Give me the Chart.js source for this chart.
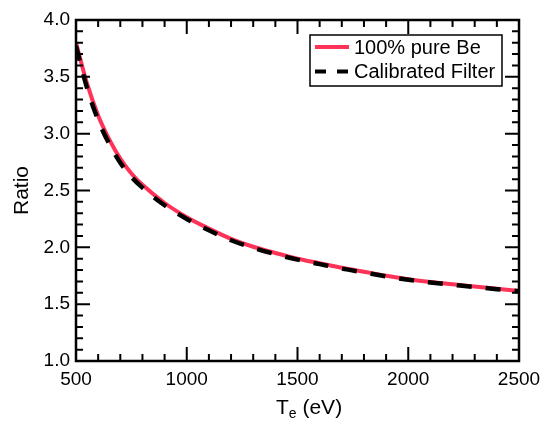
<!DOCTYPE html>
<html lang="en">
<head>
    <meta charset="UTF-8">
    <title>Ratio vs Te</title>
    <script src="https://cdn.jsdelivr.net/npm/chart.js"></script>
    <style>
        body { margin: 0; background: #fff; }
        .box { width: 540px; height: 422px; }
    </style>
</head>
<body>
    <div class="box">
        <canvas id="grafico"></canvas>
    </div>
<script>
// temperatures (eV)
const te = [500, 550, 600, 650, 700, 750, 800, 900, 1000, 1100, 1200, 1300, 1400,
            1500, 1600, 1700, 1800, 1900, 2000, 2100, 2200, 2300, 2400, 2500];
// ratio for 100% pure Be (red line)
const ratioPure = [3.80, 3.44, 3.16, 2.95, 2.78, 2.65, 2.55, 2.39, 2.265, 2.165, 2.075, 2.005, 1.95,
                   1.90, 1.86, 1.82, 1.785, 1.75, 1.72, 1.695, 1.675, 1.655, 1.635, 1.617];
// ratio for calibrated filter (dashed black)
const ratioCalib = [3.77, 3.40, 3.12, 2.91, 2.745, 2.62, 2.525, 2.37, 2.25, 2.15, 2.062, 1.995, 1.94,
                    1.892, 1.852, 1.813, 1.779, 1.745, 1.715, 1.691, 1.671, 1.651, 1.632, 1.614];
const seriesNames = ['100% pure Be', 'Calibrated Filter'];

const xMin = 500, xMax = 2500, xStep = 100, xMajor = 500;
const yMin = 1.0, yMax = 4.0, yStep = 0.1, yMajor = 0.5;

const fonte = '"Liberation Sans", Arial, Helvetica, sans-serif';

function isMajor(v, m) {
    const r = v / m;
    return Math.abs(r - Math.round(r)) < 1e-6;
}

function pontos(xs, ys) {
    let out = [];
    for (let i = 0; i < xs.length; i++) {
        out.push({ x: xs[i], y: ys[i] });
    }
    return out;
}

// frame, inward ticks on all four sides, legend and x title with subscript
const molduraPlugin = {
    id: 'moldura',
    afterDatasetsDraw(chart) {
        const ctx = chart.ctx;
        const a = chart.chartArea;
        const sx = chart.scales.x, sy = chart.scales.y;
        ctx.save();
        ctx.strokeStyle = '#000';
        ctx.lineWidth = 2;
        ctx.lineCap = 'butt';

        sx.ticks.forEach(function (t) {
            const p = sx.getPixelForValue(t.value);
            const len = isMajor(t.value, xMajor) ? 14 : 7;
            ctx.beginPath();
            ctx.moveTo(p, a.bottom); ctx.lineTo(p, a.bottom - len);
            ctx.moveTo(p, a.top); ctx.lineTo(p, a.top + len);
            ctx.stroke();
        });
        sy.ticks.forEach(function (t) {
            const p = sy.getPixelForValue(t.value);
            const len = isMajor(t.value, yMajor) ? 14 : 7;
            ctx.beginPath();
            ctx.moveTo(a.left, p); ctx.lineTo(a.left + len, p);
            ctx.moveTo(a.right, p); ctx.lineTo(a.right - len, p);
            ctx.stroke();
        });

        ctx.lineWidth = 2.5;
        ctx.strokeRect(a.left, a.top, a.right - a.left, a.bottom - a.top);

        // legend
        const ds = chart.data.datasets;
        const lx = a.right - 209, ly = a.top + 15, lw = 192, lh = 51;
        ctx.fillStyle = '#fff';
        ctx.fillRect(lx, ly, lw, lh);
        ctx.lineWidth = 1.5;
        ctx.strokeRect(lx, ly, lw, lh);
        ctx.font = '20px ' + fonte;
        ctx.textBaseline = 'alphabetic';
        ctx.textAlign = 'left';
        for (let i = 0; i < ds.length; i++) {
            const yy = ly + 12 + i * 24.5;
            ctx.beginPath();
            ctx.strokeStyle = ds[i].borderColor;
            ctx.lineWidth = 4;
            ctx.setLineDash(ds[i].borderDash ? [11, 11] : []);
            ctx.moveTo(lx + 5, yy);
            ctx.lineTo(lx + 39, yy);
            ctx.stroke();
            ctx.setLineDash([]);
            ctx.fillStyle = '#000';
            ctx.fillText(ds[i].label, lx + 44, yy + 6.5);
        }

        // x title: T with subscript e
        ctx.fillStyle = '#000';
        const base = 414;
        let x0 = 276;
        ctx.font = '21px ' + fonte;
        ctx.fillText('T', x0, base);
        x0 += ctx.measureText('T').width;
        ctx.font = '14px ' + fonte;
        ctx.fillText('e', x0, base + 4);
        x0 += ctx.measureText('e').width;
        ctx.font = '21px ' + fonte;
        ctx.fillText(' (eV)', x0, base);
        ctx.restore();
    }
};

const dados = {
    datasets: [{
        label: seriesNames[0],
        data: pontos(te, ratioPure),
        borderColor: '#ff3358',
        borderWidth: 4,
        pointRadius: 0,
        cubicInterpolationMode: 'monotone',
        order: 2
    }, {
        label: seriesNames[1],
        data: pontos(te, ratioCalib),
        borderColor: '#000000',
        borderWidth: 4.5,
        borderDash: [15, 14],
        borderCapStyle: 'butt',
        pointRadius: 0,
        cubicInterpolationMode: 'monotone',
        order: 1
    }]
};

const config = {
    type: 'line',
    data: dados,
    options: {
        responsive: true,
        maintainAspectRatio: false,
        animation: false,
        layout: { padding: { top: 20, right: 21, left: 0, bottom: 0 } },
        plugins: {
            legend: { display: false },
            tooltip: { enabled: false }
        },
        scales: {
            x: {
                type: 'linear',
                min: xMin,
                max: xMax,
                grid: { display: false, drawTicks: false },
                border: { display: false },
                ticks: {
                    stepSize: xStep,
                    autoSkip: false,
                    maxRotation: 0,
                    padding: 7,
                    color: '#000',
                    font: { family: fonte, size: 19 },
                    callback: function (v) { return isMajor(v, xMajor) ? String(v) : ''; }
                },
                afterFit: function (s) {
                    s.height = 61;
                    s.paddingLeft = 0;
                    s.paddingRight = 0;
                }
            },
            y: {
                type: 'linear',
                min: yMin,
                max: yMax,
                grid: { display: false, drawTicks: false },
                border: { display: false },
                title: {
                    display: true,
                    text: 'Ratio',
                    color: '#000',
                    font: { family: fonte, size: 21 },
                    padding: { top: 10, bottom: 0 }
                },
                ticks: {
                    stepSize: yStep,
                    autoSkip: false,
                    padding: 6,
                    color: '#000',
                    font: { family: fonte, size: 19 },
                    callback: function (v) { return isMajor(v, yMajor) ? v.toFixed(1) : ''; }
                },
                afterFit: function (s) {
                    s.width = 76;
                    s.paddingTop = 0;
                    s.paddingBottom = 0;
                }
            }
        }
    },
    plugins: [molduraPlugin]
};

let myChart = new Chart(document.getElementById('grafico'), config);
</script>
</body>
</html>
